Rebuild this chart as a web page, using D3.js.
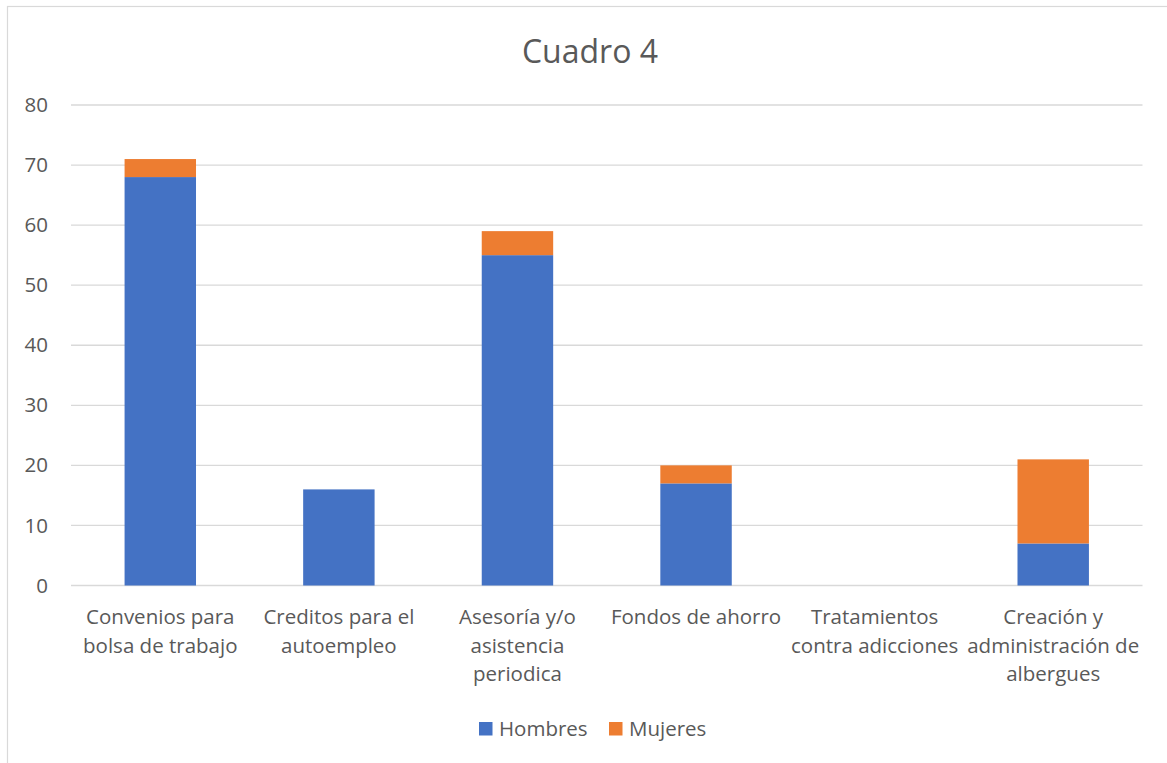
<!DOCTYPE html>
<html>
<head>
<meta charset="utf-8">
<script src="https://cdn.jsdelivr.net/npm/d3@7"></script>
<style>
  body { margin: 0; background: #fff; }
  svg { display: block; font-family: "Open Sans", "Noto Sans", sans-serif; }
</style>
</head>
<body>
<svg id="chart" width="1167" height="763"></svg>
<script>
const title = "Cuadro 4";
const categories = [
  "Convenios para\nbolsa de trabajo",
  "Creditos para el\nautoempleo",
  "Asesoría y/o\nasistencia\nperiodica",
  "Fondos de ahorro",
  "Tratamientos\ncontra adicciones",
  "Creación y\nadministración de\nalbergues"
];
const seriesNames = ["Hombres", "Mujeres"];
const hombres = [68, 16, 55, 17, 0, 7];
const mujeres = [3, 0, 4, 3, 0, 14];
const yTicks = [0, 10, 20, 30, 40, 50, 60, 70, 80];
const colors = ["#4472C4", "#ED7D31"];

const svg = d3.select("#chart");
const W = 1167, H = 763;
const m = { left: 71, right: 1142.5, top: 105, bottom: 585.5 };
const fs = "20.5px";

// chart border
svg.append("rect").attr("x", 7.5).attr("y", 6.5).attr("width", W + 10).attr("height", H + 10)
  .attr("fill", "#fff").attr("stroke", "#D9D9D9").attr("stroke-width", 1.2);

const x = d3.scaleBand().domain(d3.range(categories.length)).range([m.left, m.right])
  .paddingInner(0.6).paddingOuter(0.3);
const y = d3.scaleLinear().domain([0, 80]).range([m.bottom, m.top]);

// gridlines
svg.append("g").selectAll("line").data(yTicks).join("line")
  .attr("x1", m.left).attr("x2", m.right)
  .attr("y1", d => y(d)).attr("y2", d => y(d))
  .attr("stroke", "#D9D9D9").attr("stroke-width", 1.3);

// y axis labels
const yAxis = d3.axisLeft(y).tickValues(yTicks).tickSize(0).tickPadding(0);
const gy = svg.append("g").attr("transform", `translate(${m.left - 23},0)`).call(yAxis);
gy.select(".domain").remove();
gy.selectAll("text").attr("fill", "#595959").style("font-size", fs)
  .style("font-family", "'Open Sans', sans-serif");

// stacked data
const rows = categories.map((c, i) => ({ i, Hombres: hombres[i], Mujeres: mujeres[i] }));
const stack = d3.stack().keys(seriesNames)(rows);

svg.append("g").selectAll("g").data(stack).join("g")
  .attr("fill", (d, k) => colors[k])
  .selectAll("rect").data(d => d).join("rect")
  .attr("x", d => x(d.data.i))
  .attr("width", x.bandwidth())
  .attr("y", d => y(d[1]))
  .attr("height", d => y(d[0]) - y(d[1]));

// category labels
const gx = svg.append("g");
categories.forEach((c, i) => {
  const lines = c.split("\n");
  const t = gx.append("text")
    .attr("x", x(i) + x.bandwidth() / 2)
    .attr("y", 624)
    .attr("text-anchor", "middle")
    .attr("fill", "#595959")
    .style("font-size", fs);
  lines.forEach((ln, j) => {
    t.append("tspan").attr("x", x(i) + x.bandwidth() / 2).attr("dy", j === 0 ? 0 : 28.5).text(ln);
  });
});

// title
svg.append("text").attr("x", 590).attr("y", 62.5).attr("text-anchor", "middle")
  .attr("fill", "#595959").style("font-size", "32px").text(title);

// legend
const legendItems = [{ name: seriesNames[0], x: 479, tx: 499 }, { name: seriesNames[1], x: 609, tx: 629 }];
const lg = svg.append("g");
legendItems.forEach((d, k) => {
  lg.append("rect").attr("x", d.x).attr("y", 722).attr("width", 13.5).attr("height", 13.5).attr("fill", colors[k]);
  lg.append("text").attr("x", d.tx).attr("y", 736).attr("fill", "#595959").style("font-size", fs).text(d.name);
});
</script>
</body>
</html>
